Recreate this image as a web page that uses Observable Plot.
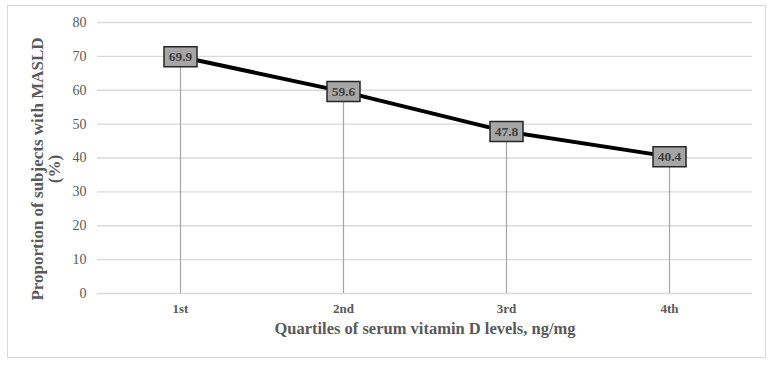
<!DOCTYPE html>
<html>
<head>
<meta charset="utf-8">
<script src="https://cdn.jsdelivr.net/npm/d3@7"></script>
<script src="https://cdn.jsdelivr.net/npm/@observablehq/plot@0.6"></script>
<style>
  html, body { margin: 0; padding: 0; background: #fff; }
  #wrap { position: relative; width: 776px; height: 369px; }
  #border { position: absolute; left: 7px; top: 5px; width: 759px; height: 353px; border: 1.5px solid #d9d9d9; box-sizing: border-box; pointer-events: none; }
</style>
</head>
<body>
<div id="wrap"><div id="border"></div></div>
<script>
const quartiles = ["1st", "2nd", "3rd", "4th"];
const proportions = [69.9, 59.6, 47.8, 40.4];
const yTicks = [0, 10, 20, 30, 40, 50, 60, 70, 80];
const xTitle = "Quartiles of serum vitamin D levels, ng/mg";
const yTitle = "Proportion of subjects with MASLD\n(%)";

const data = quartiles.map((q, i) => ({q, v: proportions[i]}));

const boxSymbol = {
  draw(context, size) {
    const w = 33, h = 20;
    context.moveTo(-w / 2, -h / 2);
    context.lineTo(w / 2, -h / 2);
    context.lineTo(w / 2, h / 2);
    context.lineTo(-w / 2, h / 2);
    context.closePath();
  }
};

const font = "'Liberation Serif', 'DejaVu Serif', serif";

const chart = Plot.plot({
  width: 776,
  height: 369,
  marginLeft: 97,
  marginRight: 24,
  marginTop: 22,
  marginBottom: 76,
  style: {fontFamily: font, background: "transparent"},
  x: {domain: quartiles, type: "point", padding: 0.5, label: null},
  y: {domain: [0, 80], label: null},
  marks: [
    Plot.gridY(yTicks, {stroke: "#d9d9d9", strokeOpacity: 1, strokeWidth: 1.3}),
    Plot.axisY(yTicks, {tickSize: 0, tickPadding: 11, fontSize: 14, fill: "#595959", label: null}),
    Plot.axisX({tickSize: 0, tickPadding: 10, fontSize: 13, fontWeight: "bold", fill: "#595959", label: null}),
    Plot.ruleX(data, {x: "q", y1: 0, y2: "v", stroke: "#a6a6a6", strokeWidth: 1.2}),
    Plot.line(data, {x: "q", y: "v", stroke: "#000", strokeWidth: 4}),
    Plot.dot(data, {x: "q", y: "v", symbol: boxSymbol, r: 10, fill: "#a6a6a6", stroke: "#262626", strokeWidth: 1.5}),
    Plot.text(data, {x: "q", y: "v", text: d => d.v.toFixed(1), fill: "#404040", fontWeight: "bold", fontSize: 13.5}),
    Plot.text([xTitle], {frameAnchor: "bottom", dy: 40, text: d => d, fontSize: 16.5, fontWeight: "bold", fill: "#595959"}),
    Plot.text([yTitle], {frameAnchor: "left", textAnchor: "middle", dx: -51, dy: 11, rotate: -90, text: d => d, fontSize: 17, fontWeight: "bold", fill: "#595959", lineHeight: 1.0})
  ]
});
document.getElementById("wrap").prepend(chart);
</script>
</body>
</html>
